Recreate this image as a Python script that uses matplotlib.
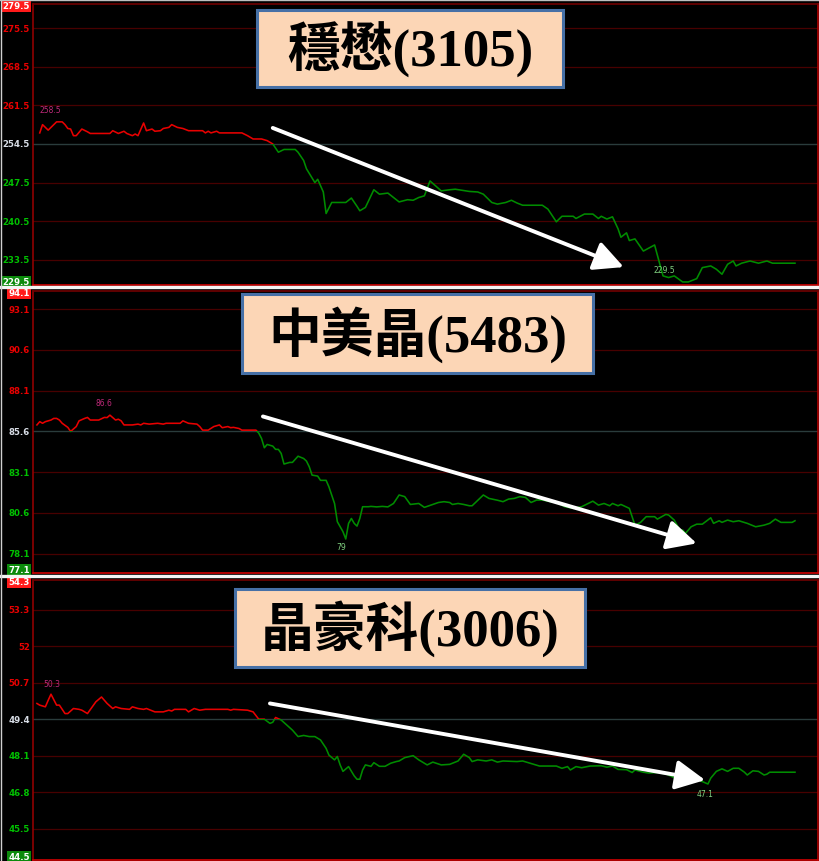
import matplotlib.pyplot as plt
import numpy as np
import matplotlib.transforms as mtransforms
from matplotlib.patches import Rectangle
from matplotlib.lines import Line2D

plt.rcParams['font.family'] = ['DejaVu Sans']

#==============================================================================#
# data : minutes since open, price
# 穩懋 (3105)
wm_title = '穩懋(3105)'
wm_ref = 254.5
wm_ticks = [279.5, 275.5, 268.5, 261.5, 254.5, 247.5, 240.5, 233.5, 229.5]
wm_t = [1, 2, 3, 4, 5, 7, 9, 10, 11, 12, 13, 14, 16, 18, 19, 26, 27, 29, 31, 32,
        34, 35, 36, 38, 39, 41, 42, 44, 45, 47, 48, 50, 52, 54, 59, 60, 61, 62, 64, 65,
        73, 75, 77, 80, 82, 84, 86, 88, 92, 93, 95, 96, 99, 100, 102, 103, 105, 110, 112, 114,
        115, 117, 120, 122, 125, 127, 129, 132, 134, 136, 138, 140, 142, 144, 147, 149, 154, 157, 159, 162,
        164, 167, 169, 171, 173, 180, 182, 185, 187, 191, 192, 195, 198, 200, 201, 203, 205, 207, 208, 210,
        211, 213, 216, 220, 223, 225, 227, 230, 232, 235, 237, 240, 242, 244, 246, 248, 249, 251, 254, 257,
        260, 262, 270]
wm_p = [256.5, 258.0, 257.5, 257.0, 257.5, 258.5, 258.5, 258.0, 257.3, 257.2,
        256.0, 256.0, 257.2, 256.7, 256.4, 256.4, 256.9, 256.4, 256.8, 256.4,
        256.0, 256.3, 256.0, 258.3, 256.9, 257.2, 256.8, 256.9, 257.3, 257.5,
        258.0, 257.5, 257.3, 256.9, 256.9, 256.5, 256.8, 256.5, 256.8, 256.5,
        256.5, 256.0, 255.4, 255.4, 255.1, 254.5, 253.0, 253.5, 253.5, 253.0,
        251.5, 250.0, 247.5, 248.1, 245.8, 241.9, 243.9, 243.9, 244.7, 243.2,
        242.4, 243.0, 246.2, 245.4, 245.6, 244.8, 244.0, 244.4, 244.3, 244.8,
        245.1, 247.8, 246.9, 246.0, 246.2, 246.3, 245.9, 245.8, 245.4, 243.9,
        243.6, 243.9, 244.3, 243.8, 243.4, 243.4, 242.7, 240.4, 241.4, 241.4,
        241.0, 241.8, 241.8, 241.0, 241.4, 240.9, 241.3, 239.1, 237.6, 238.4,
        237.0, 237.3, 235.1, 236.2, 230.6, 230.3, 230.6, 229.5, 229.5, 230.1,
        232.1, 232.4, 231.8, 230.9, 232.7, 233.3, 232.4, 232.9, 233.3, 232.9,
        233.3, 232.9, 232.9]
wm_arrow = [(84, 257.4), (209, 232.2)]

# 中美晶 (5483)
zm_title = '中美晶(5483)'
zm_ref = 85.6
zm_ticks = [94.1, 93.1, 90.6, 88.1, 85.6, 83.1, 80.6, 78.1, 77.1]
zm_t = [0, 1, 2, 3, 5, 6, 7, 8, 9, 11, 12, 14, 15, 17, 18, 19, 22, 24, 25, 26,
        28, 29, 30, 31, 34, 36, 37, 38, 40, 43, 45, 46, 51, 52, 54, 57, 58, 59, 61, 63,
        65, 66, 68, 69, 70, 72, 73, 78, 79, 80, 81, 82, 84, 85, 86, 87, 88, 90, 91, 93,
        95, 96, 97, 98, 100, 101, 103, 104, 106, 107, 109, 110, 111, 112, 113, 114, 115, 116, 118, 119,
        121, 123, 125, 127, 129, 131, 133, 136, 138, 141, 143, 145, 147, 148, 150, 152, 154, 155, 159, 161,
        164, 166, 168, 170, 172, 174, 176, 178, 180, 183, 185, 188, 191, 194, 198, 200, 202, 204, 205, 207,
        208, 211, 213, 215, 217, 220, 221, 224, 225, 227, 229, 230, 231, 233, 235, 237, 240, 241, 243, 244,
        246, 248, 250, 253, 256, 259, 261, 263, 265, 269, 270]
zm_p = [86.0, 86.2, 86.1, 86.2, 86.3, 86.4, 86.4, 86.3, 86.1, 85.85,
        85.6, 85.9, 86.25, 86.4, 86.46, 86.3, 86.3, 86.46, 86.45, 86.6,
        86.3, 86.35, 86.25, 86.0, 86.0, 86.05, 86.0, 86.1, 86.05, 86.1,
        86.05, 86.1, 86.1, 86.25, 86.1, 86.05, 85.9, 85.68, 85.68, 85.9,
        86.0, 85.83, 85.9, 85.83, 85.85, 85.78, 85.68, 85.68, 85.5, 85.17,
        84.6, 84.8, 84.7, 84.5, 84.5, 84.25, 83.6, 83.7, 83.7, 84.08,
        83.94, 83.78, 83.43, 82.92, 82.86, 82.6, 82.6, 82.2, 81.18, 80.06,
        79.45, 79.0, 79.96, 80.26, 79.96, 79.79, 80.26, 80.98, 80.98, 81.0,
        80.97, 81.0, 80.97, 81.18, 81.7, 81.6, 81.12, 81.18, 80.94, 81.12,
        81.24, 81.29, 81.24, 81.12, 81.18, 81.12, 81.04, 81.04, 81.7, 81.49,
        81.38, 81.29, 81.45, 81.49, 81.6, 81.55, 81.24, 81.39, 81.39, 81.29,
        81.24, 80.98, 80.88, 80.98, 81.32, 81.08, 81.18, 81.04, 81.18, 81.04,
        81.12, 80.88, 79.85, 80.02, 80.37, 80.37, 80.22, 80.51, 80.47, 80.16,
        79.54, 79.55, 79.34, 79.75, 79.91, 79.91, 80.3, 79.96, 80.12, 80.02,
        80.16, 80.06, 80.12, 79.96, 79.75, 79.85, 79.96, 80.22, 80.02, 80.02,
        80.12]
zm_arrow = [(80.5, 86.52), (235, 78.73)]

# 晶豪科 (3006)
jh_title = '晶豪科(3006)'
jh_ref = 49.4
jh_ticks = [54.3, 53.3, 52, 50.7, 49.4, 48.1, 46.8, 45.5, 44.5]
jh_t = [0, 1, 3, 4, 5, 7, 8, 10, 11, 13, 15, 16, 18, 21, 23, 25, 27, 28, 30, 33,
        34, 36, 38, 39, 42, 45, 47, 48, 49, 53, 54, 56, 58, 60, 68, 69, 70, 75, 77, 79,
        81, 83, 84, 85, 87, 89, 91, 93, 95, 97, 99, 101, 103, 104, 106, 107, 108, 109, 111, 113,
        114, 115, 116, 117, 119, 120, 122, 124, 126, 128, 129, 131, 134, 136, 139, 141, 144, 147, 150, 152,
        154, 155, 157, 160, 162, 164, 166, 171, 173, 177, 179, 185, 187, 189, 190, 192, 194, 197, 201, 203,
        205, 207, 210, 212, 213, 216, 218, 221, 224, 226, 228, 230, 232, 234, 236, 239, 240, 242, 244, 246,
        248, 250, 252, 253, 255, 257, 259, 260, 261, 270]
jh_p = [49.97, 49.91, 49.85, 50.08, 50.3, 49.91, 49.91, 49.61, 49.61, 49.79,
        49.76, 49.73, 49.61, 50.03, 50.2, 49.97, 49.79, 49.85, 49.79, 49.76,
        49.85, 49.79, 49.76, 49.79, 49.67, 49.67, 49.73, 49.70, 49.76, 49.76,
        49.67, 49.79, 49.73, 49.76, 49.76, 49.73, 49.76, 49.73, 49.67, 49.41,
        49.41, 49.26, 49.3, 49.47, 49.38, 49.2, 49.02, 48.79, 48.83, 48.79,
        48.79, 48.67, 48.37, 48.13, 47.96, 48.08, 47.78, 47.55, 47.72, 47.39,
        47.27, 47.27, 47.6, 47.78, 47.73, 47.86, 47.73, 47.73, 47.84, 47.9,
        47.92, 48.04, 48.11, 47.96, 47.78, 47.88, 47.78, 47.8, 47.92, 48.16,
        48.04, 47.9, 47.96, 47.92, 47.96, 47.88, 47.92, 47.9, 47.92, 47.8,
        47.74, 47.74, 47.66, 47.72, 47.6, 47.72, 47.68, 47.74, 47.75, 47.7,
        47.74, 47.62, 47.61, 47.51, 47.6, 47.52, 47.49, 47.51, 47.46, 47.37,
        47.28, 47.29, 47.25, 47.23, 47.23, 47.1, 47.31, 47.55, 47.64, 47.55,
        47.66, 47.66, 47.52, 47.42, 47.57, 47.55, 47.42, 47.45, 47.52, 47.52]
jh_arrow = [(83, 49.97), (238, 47.24)]

#==============================================================================#
W, H = 820, 862

def fx(px):
    return px / W

def fy(py):
    return 1 - py / H

panels = [
    dict(title=wm_title, ref=wm_ref, ticks=wm_ticks, t=wm_t, p=wm_p, arrow=wm_arrow,
         box=(257, 11, 563, 88), hi_off=(-6, 12), lo_off=(-18, 12)),
    dict(title=zm_title, ref=zm_ref, ticks=zm_ticks, t=zm_t, p=zm_p, arrow=zm_arrow,
         box=(242, 295, 593, 374), hi_off=(-6, 13), lo_off=(-5, -8)),
    dict(title=jh_title, ref=jh_ref, ticks=jh_ticks, t=jh_t, p=jh_p, arrow=jh_arrow,
         box=(235, 590, 585, 668), hi_off=(1, 11), lo_off=(-3, -9)),
]
panel_px = [(5, 286), (292, 574), (581, 861)]

RED = '#e80000'
GREEN = '#00c000'
LINE_GREEN = '#008c00'

fig = plt.figure(figsize=(8.2, 8.62), dpi=100, facecolor='black')

for pn, (top, bot) in zip(panels, panel_px):
    ax = fig.add_axes([fx(33), fy(bot), fx(818) - fx(33), (bot - top) / H])
    ax.set_facecolor('black')
    hi, lo = pn['ticks'][0], pn['ticks'][-1]
    rng = hi - lo
    ax.set_ylim(lo - rng * 0.011, hi + rng * 0.007)
    ax.set_xlim(-1.4, 278.2)
    ax.set_xticks([])
    ax.set_yticks([])
    ax.spines['left'].set_color('#900000')
    ax.spines['right'].set_color('#b00000')
    ax.spines['top'].set_color('#700000')
    ax.spines['bottom'].set_color('#d00000')
    for s in ax.spines.values():
        s.set_linewidth(1.2)

    ref = pn['ref']
    trans = mtransforms.blended_transform_factory(ax.transAxes, ax.transData)
    for k, v in enumerate(pn['ticks']):
        lab = '%g' % v if v == int(v) else '%.1f' % v
        if v == ref:
            ax.axhline(v, color='#2a3c3c', lw=1.0, zorder=1)
            col = '#d8dde6'
        elif v > ref:
            col = RED
        else:
            col = GREEN
        if 0 < k < len(pn['ticks']) - 1 and v != ref:
            ax.axhline(v, color='#480000', lw=0.9, zorder=1)
        kw = dict(transform=trans, ha='right', va='center', fontsize=6.2,
                  fontweight='bold', clip_on=False)
        if k == 0:
            ax.text(-0.004, v, lab, color='white',
                    bbox=dict(boxstyle='square,pad=0.18', fc='#ff1a1a', ec='none'), **kw)
        elif k == len(pn['ticks']) - 1:
            ax.text(-0.004, v, lab, color='white',
                    bbox=dict(boxstyle='square,pad=0.18', fc='#0b8a0b', ec='none'), **kw)
        else:
            ax.text(-0.004, v, lab, color=col, **kw)

    t = np.array(pn['t'], dtype=float)
    p = np.array(pn['p'], dtype=float)
    up, = ax.plot(t, p, color=RED, lw=1.15, zorder=3)
    dn, = ax.plot(t, p, color=LINE_GREEN, lw=1.15, zorder=3)
    up.set_clip_path(Rectangle((-10, ref), 300, rng * 5, transform=ax.transData))
    dn.set_clip_path(Rectangle((-10, ref - rng * 5), 300, rng * 5, transform=ax.transData))

    imax, imin = np.argmax(p), np.argmin(p)
    ax.annotate('%g' % p[imax], (t[imax], p[imax]), xytext=pn['hi_off'],
                textcoords='offset pixels', ha='center', va='center',
                fontsize=5.5, color='#c02a7a')
    ax.annotate('%g' % p[imin], (t[imin], p[imin]), xytext=pn['lo_off'],
                textcoords='offset pixels', ha='center', va='center',
                fontsize=5.5, color='#80d080')

    (x0, y0), (x1, y1) = pn['arrow']
    ax.annotate('', xy=(x1, y1), xytext=(x0, y0),
                arrowprops=dict(arrowstyle='-|>,head_length=0.9,head_width=0.45',
                                color='white', lw=2.8, mutation_scale=20,
                                shrinkA=0, shrinkB=0), zorder=5)

    bx0, by0, bx1, by1 = pn['box']
    fig.add_artist(Rectangle((fx(bx0), fy(by1)), fx(bx1) - fx(bx0), (by1 - by0) / H,
                             transform=fig.transFigure, fc='#fcd6b6', ec='#4670a6',
                             lw=2.2, zorder=10))
    fig.text(fx((bx0 + bx1) / 2), fy((by0 + by1) / 2), pn['title'],
             family=['Liberation Serif', 'Noto Sans CJK TC'], fontweight='bold',
             fontsize=38, color='black', ha='center', va='center', zorder=11)

# white separators between the screenshots
for yy in [288, 577]:
    fig.add_artist(Line2D([0, 1], [fy(yy), fy(yy)], color='#f4f4f4', lw=2.4,
                          transform=fig.transFigure, zorder=12))
fig.add_artist(Line2D([fx(0.6), fx(0.6)], [0, 1], color='#d0d0d0', lw=1.0,
                      transform=fig.transFigure, zorder=12))
fig.add_artist(Line2D([0, 1], [fy(0.6), fy(0.6)], color='#c0c0c0', lw=1.0,
                      transform=fig.transFigure, zorder=12))

fig.savefig('out.png', dpi=100, facecolor='black')
